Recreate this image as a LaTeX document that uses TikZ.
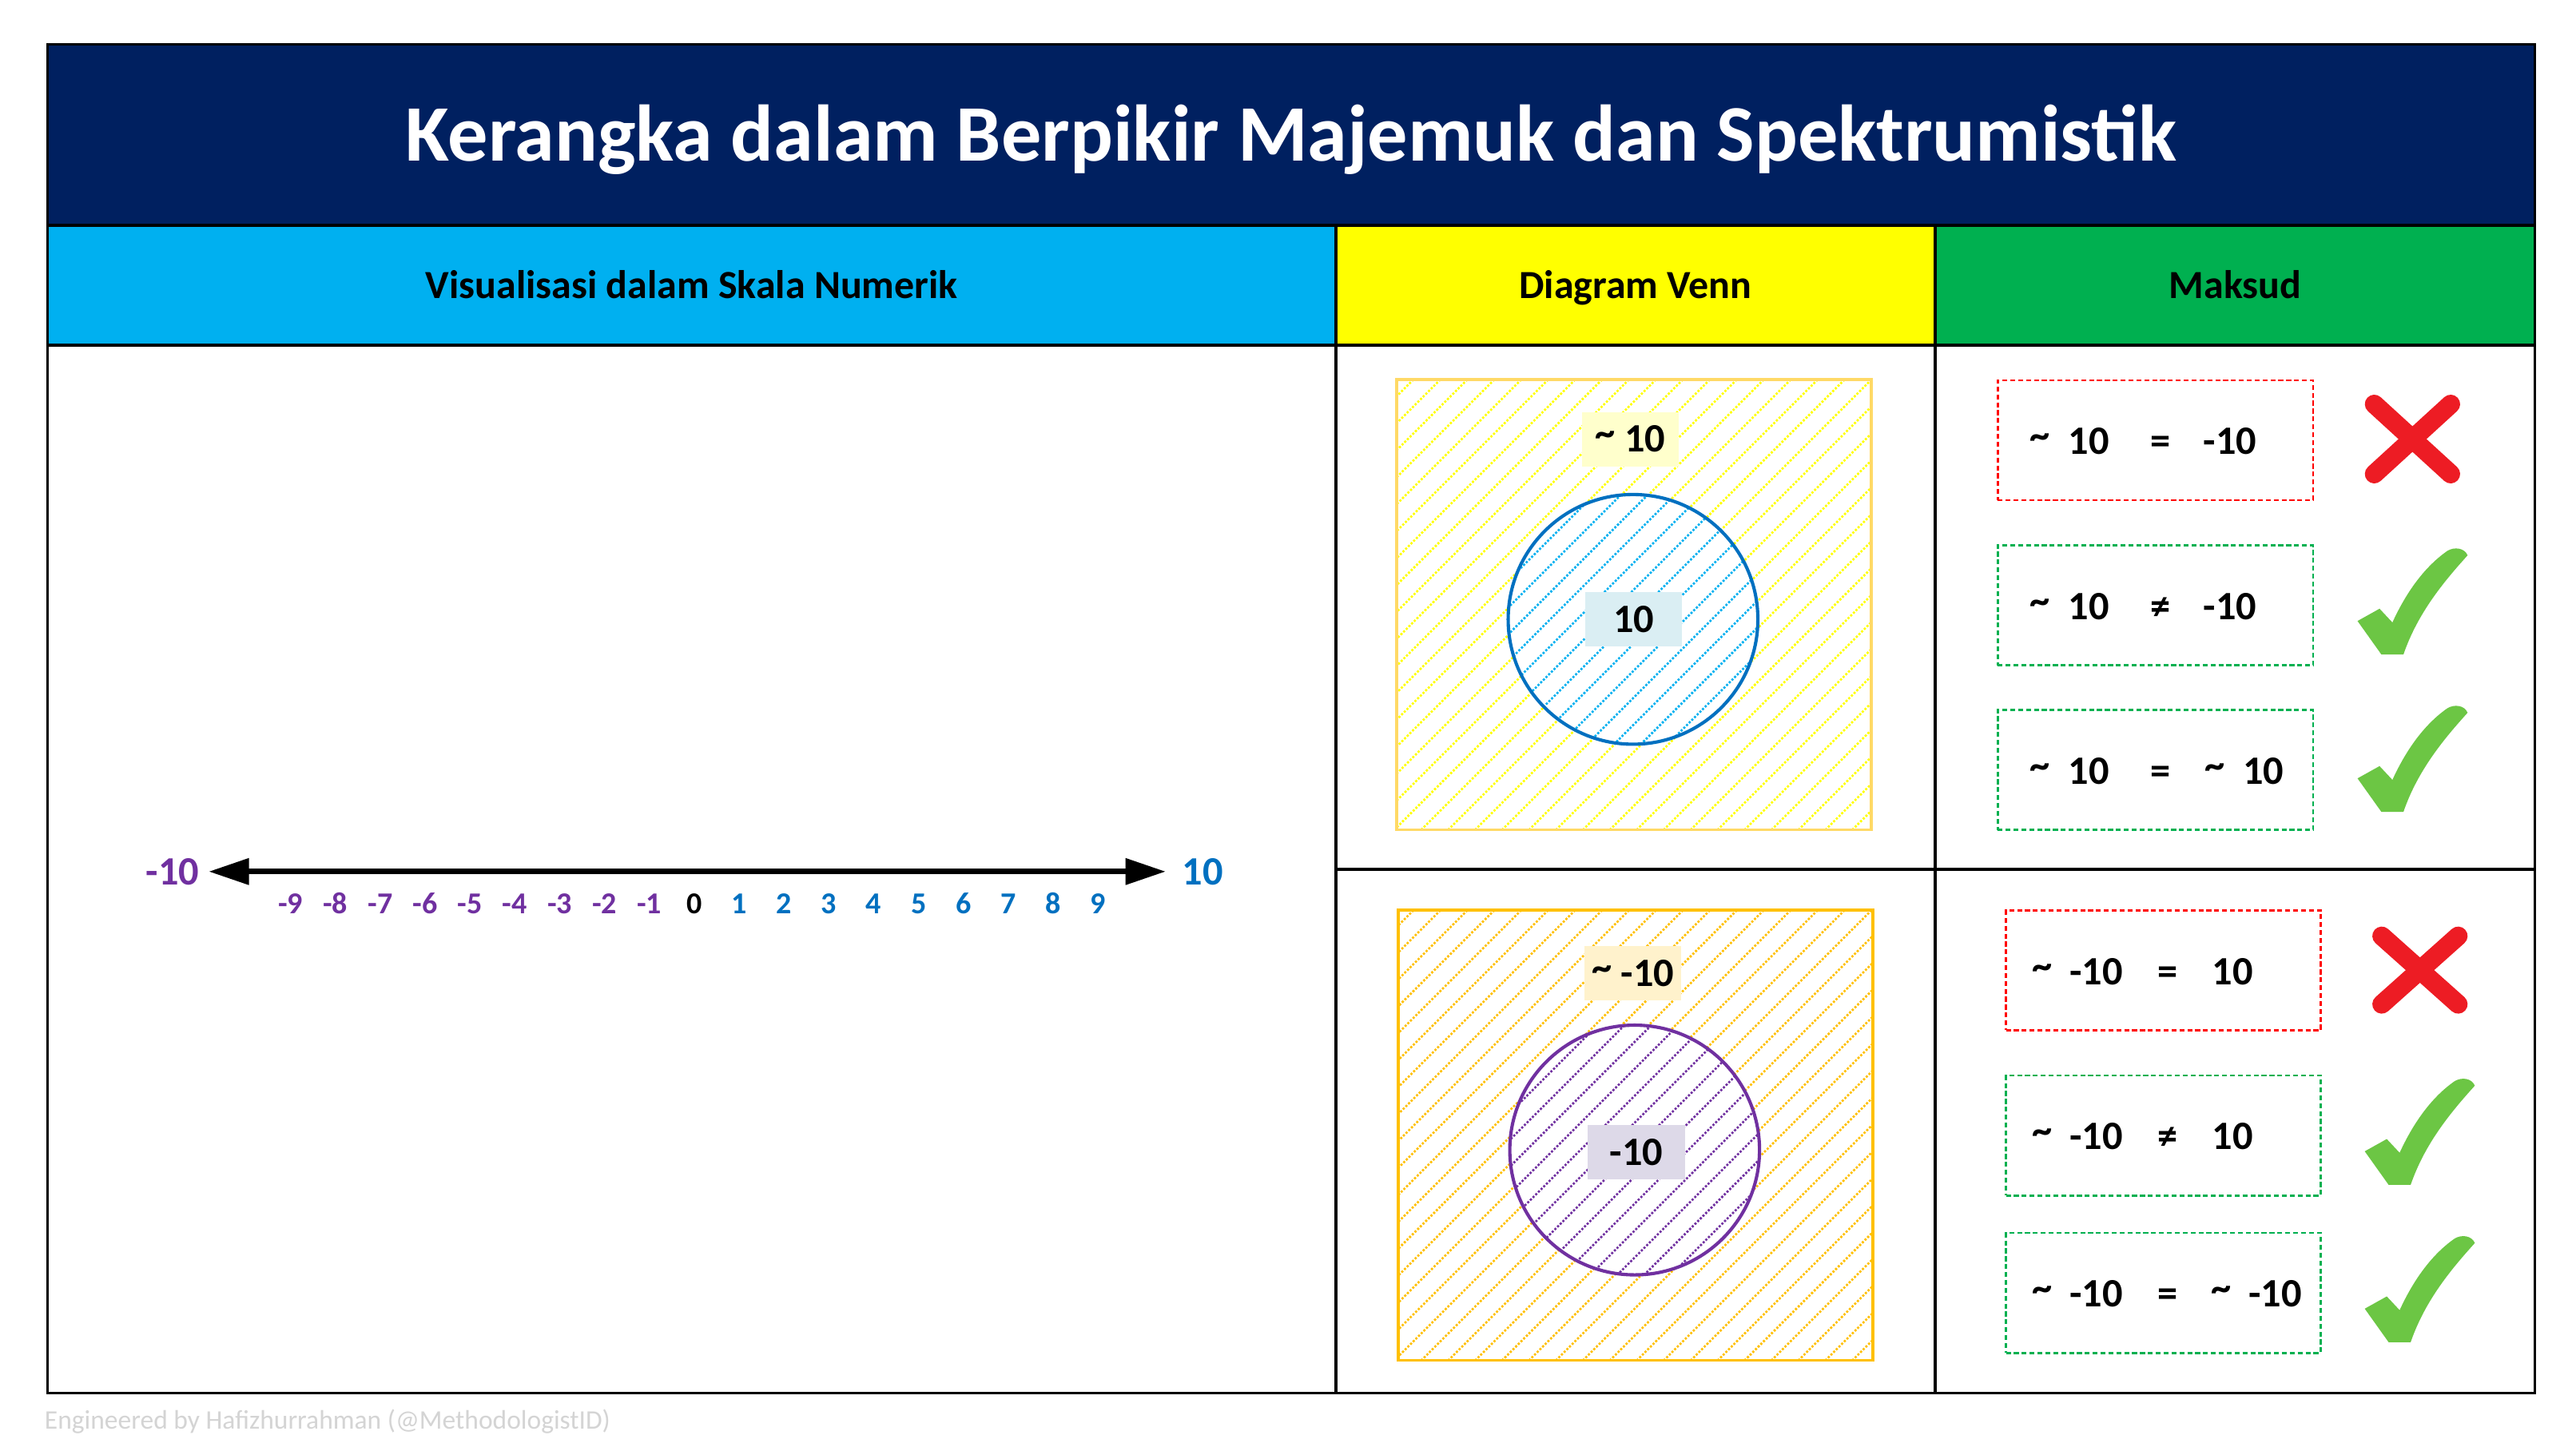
\documentclass[tikz,border=0pt]{standalone}
\usepackage{fontspec}
\setmainfont{Carlito}
\usetikzlibrary{arrows.meta}
\definecolor{navy}{HTML}{002060}
\definecolor{hcyan}{HTML}{00B0F0}
\definecolor{hyellow}{HTML}{FFFF00}
\definecolor{hgreen}{HTML}{00B050}
\definecolor{vborderA}{HTML}{FFD966}
\definecolor{vhatchA}{HTML}{FFFF00}
\definecolor{cblue}{HTML}{0070C0}
\definecolor{chblue}{HTML}{00B0F0}
\definecolor{vorange}{HTML}{FFC000}
\definecolor{cpurple}{HTML}{7030A0}
\definecolor{lblA}{HTML}{FFFFCC}
\definecolor{lblB}{HTML}{DAEEF3}
\definecolor{lblC}{HTML}{FFF2CC}
\definecolor{lblD}{HTML}{DDD9E8}
\definecolor{boxred}{HTML}{FF0000}
\definecolor{boxgreen}{HTML}{00B050}
\definecolor{xred}{HTML}{ED1C24}
\definecolor{ckgreen}{HTML}{6CC644}
\definecolor{footgray}{HTML}{D4D4D4}
\newcommand\tld{\raisebox{3.4pt}{\char"7E\relax}}
\newcommand\bx{\fontsize{24.5pt}{28pt}\selectfont\bfseries}
\begin{document}
\begin{tikzpicture}[x=1pt,y=-1pt,
  grid/.style={line width=1.8pt,black},
  hatch/.style={line width=1.3pt,dash pattern=on 1.3pt off 1.0pt},
  hdr/.style={anchor=base,inner sep=0pt,font=\fontsize{24.3pt}{28pt}\selectfont\bfseries},
  tok/.style={inner sep=0pt,font=\bx,text height=15.5pt,text depth=0pt},
  vlab/.style={inner sep=0pt,font=\bx,text height=15.5pt,text depth=0pt,minimum width=59pt,minimum height=33pt},
  mbox/.style={draw,line width=1.3pt,dash pattern=on 3pt off 1.8pt,minimum width=192pt,minimum height=73pt,inner sep=0pt},
  ticklab/.style={inner sep=0pt,font=\fontsize{18.5pt}{22pt}\selectfont\bfseries,text height=11.7pt,text depth=0pt},
  endlab/.style={inner sep=0pt,font=\fontsize{24.5pt}{28pt}\selectfont\bfseries,text height=15.4pt,text depth=0pt},
  checkmk/.pic={\fill[ckgreen] (0,0.686) -- (0.2,0.571) -- (0.317,0.70)
      .. controls (0.45,0.40) and (0.62,0.17) .. (0.817,0.029)
      .. controls (0.88,-0.01) and (0.97,0.0) .. (1.0,0.071)
      .. controls (0.80,0.30) and (0.55,0.60) .. (0.417,1.0)
      -- (0.217,1.0) -- cycle;},
  crossmk/.pic={\draw[xred,line width=11.5pt,line cap=round] (0,0) -- (1,1) (1,0) -- (0,1);}
]
\useasboundingbox[fill=white] (0,0) rectangle (1568,883);
% title and header fills
\fill[navy] (29,27) rectangle (1543,137);
\fill[hcyan] (29,137) rectangle (813,210);
\fill[hyellow] (813,137) rectangle (1178,210);
\fill[hgreen] (1178,137) rectangle (1543,210);
% grid
\draw[grid] (29,27) rectangle (1543,848);
\draw[grid] (29,137) -- (1543,137);
\draw[grid] (29,210) -- (1543,210);
\draw[grid] (813,137) -- (813,848);
\draw[grid] (1178,137) -- (1178,848);
\draw[grid] (813,529) -- (1543,529);
% texts
\node[anchor=base,inner sep=0pt,text=white,font=\fontsize{48.8pt}{58pt}\selectfont\bfseries] (title) at (786,98) {Kerangka dalam Berpikir Majemuk dan Spektrumistik};
\node[hdr] (h1) at (421,181.5) {Visualisasi dalam Skala Numerik};
\node[hdr] (h2) at (995.5,181.5) {Diagram Venn};
\node[hdr] (h3) at (1360.5,181.5) {Maksud};
\node[anchor=base west,inner sep=0pt,text=footgray,font=\fontsize{16.3pt}{19pt}\selectfont] (foot) at (27,870) {Engineered by Hafizhurrahman (@MethodologistID)};
% number line
\coordinate (aL) at (127,530.5);
\coordinate (aR) at (709.6,530.5);
\draw[line width=3.6pt,{Triangle[length=24.5pt,width=15.4pt]}-{Triangle[length=24.5pt,width=15.4pt]}] (aL) -- (aR);
\node[endlab,text=cpurple] (nL) at (105,531) {-10};
\node[endlab,text=cblue] (nR) at (732,531) {10};
\foreach \i [count=\k] in {-9,...,9} {
  \ifnum\i<0 \def\cc{cpurple}\else\ifnum\i=0 \def\cc{black}\else\def\cc{cblue}\fi\fi
  \node[ticklab,text=\cc] (tk\k) at ({422.6+27.31*\i},550.4) {\i};
}
% Venn top
\begin{scope}
  \clip (850,231) rectangle (1139,505);
  \foreach \c in {1075,1091.4,...,1650} \draw[hatch,vhatchA] ({\c-231},231) -- ++(-290,290);
\end{scope}
\fill[white] (994,377) circle[radius=76pt];
\begin{scope}
  \clip (994,377) circle[radius=76pt];
  \foreach \c in {1255,1271.4,...,1490} \draw[hatch,chblue] ({\c-301},301) -- ++(-160,160);
\end{scope}
\draw[cblue,line width=2pt] (994,377) circle[radius=76pt];
\draw[vborderA,line width=1.8pt] (850,231) rectangle (1139,505);
\node[vlab,fill=lblA] (vA) at (992.5,267.5) {\tld\ 10};
\node[vlab,fill=lblB] (vB) at (994.5,377) {10};
% Venn bottom
\begin{scope}
  \clip (851,554) rectangle (1140,828);
  \foreach \c in {1398,1414.4,...,1975} \draw[hatch,vorange] ({\c-554},554) -- ++(-290,290);
\end{scope}
\fill[white] (995,700) circle[radius=76pt];
\begin{scope}
  \clip (995,700) circle[radius=76pt];
  \foreach \c in {1580,1596.4,...,1810} \draw[hatch,cpurple] ({\c-624},624) -- ++(-160,160);
\end{scope}
\draw[cpurple,line width=2pt] (995,700) circle[radius=76pt];
\draw[vorange,line width=1.8pt] (851,554) rectangle (1140,828);
\node[vlab,fill=lblC] (vC) at (994,592.5) {\tld\ -10};
\node[vlab,fill=lblD] (vD) at (996,701.5) {-10};
% Maksud top
\node[mbox,boxred] (b1) at (1312,268) {};
\node[mbox,boxgreen] (b2) at (1312,368.5) {};
\node[mbox,boxgreen] (b3) at (1312,468.7) {};
\node[tok] (r1a) at (1241.8,268.6) {\tld};
\node[tok] (r1b) at (1271.5,268.6) {10};
\node[tok] (r1c) at (1315,268.6) {=};
\node[tok] (r1d) at (1357.5,268.6) {-10};
\node[tok] (r2a) at (1241.8,369.2) {\tld};
\node[tok] (r2b) at (1271.5,369.2) {10};
\node[tok] (r2c) at (1315,369.2) {≠};
\node[tok] (r2d) at (1357.5,369.2) {-10};
\node[tok] (r3a) at (1241.8,469.7) {\tld};
\node[tok] (r3b) at (1271.5,469.7) {10};
\node[tok] (r3c) at (1315,469.7) {=};
\node[tok] (r3d) at (1348.3,469.7) {\tld};
\node[tok] (r3e) at (1377.6,469.7) {10};
\begin{scope}[shift={(1445.2,246)},x=46.5pt,y=-42.5pt] \pic {crossmk}; \end{scope}
\begin{scope}[shift={(1435,333.4)},x=67pt,y=-65pt] \pic {checkmk}; \end{scope}
\begin{scope}[shift={(1435,429.2)},x=67pt,y=-65pt] \pic {checkmk}; \end{scope}
% Maksud bottom
\node[mbox,boxred,minimum width=191.6pt] (b4) at (1316.8,590.6) {};
\node[mbox,boxgreen,minimum width=191.6pt] (b5) at (1316.8,691.2) {};
\node[mbox,boxgreen,minimum width=191.6pt] (b6) at (1316.8,787) {};
\node[tok] (r4a) at (1242.9,591.6) {\tld};
\node[tok] (r4b) at (1276,591.6) {-10};
\node[tok] (r4c) at (1319.5,591.6) {=};
\node[tok] (r4d) at (1359,591.6) {10};
\node[tok] (r5a) at (1242.9,692) {\tld};
\node[tok] (r5b) at (1276,692) {-10};
\node[tok] (r5c) at (1319.5,692) {≠};
\node[tok] (r5d) at (1359,692) {10};
\node[tok] (r6a) at (1242.9,787.9) {\tld};
\node[tok] (r6b) at (1276,787.9) {-10};
\node[tok] (r6c) at (1319.5,787.9) {=};
\node[tok] (r6d) at (1352.3,787.9) {\tld};
\node[tok] (r6e) at (1384.8,787.9) {-10};
\begin{scope}[shift={(1449.75,569.75)},x=46.5pt,y=-41.5pt] \pic {crossmk}; \end{scope}
\begin{scope}[shift={(1439.4,656.2)},x=67pt,y=-65pt] \pic {checkmk}; \end{scope}
\begin{scope}[shift={(1439.4,752)},x=67pt,y=-65pt] \pic {checkmk}; \end{scope}
\end{tikzpicture}
\end{document}
